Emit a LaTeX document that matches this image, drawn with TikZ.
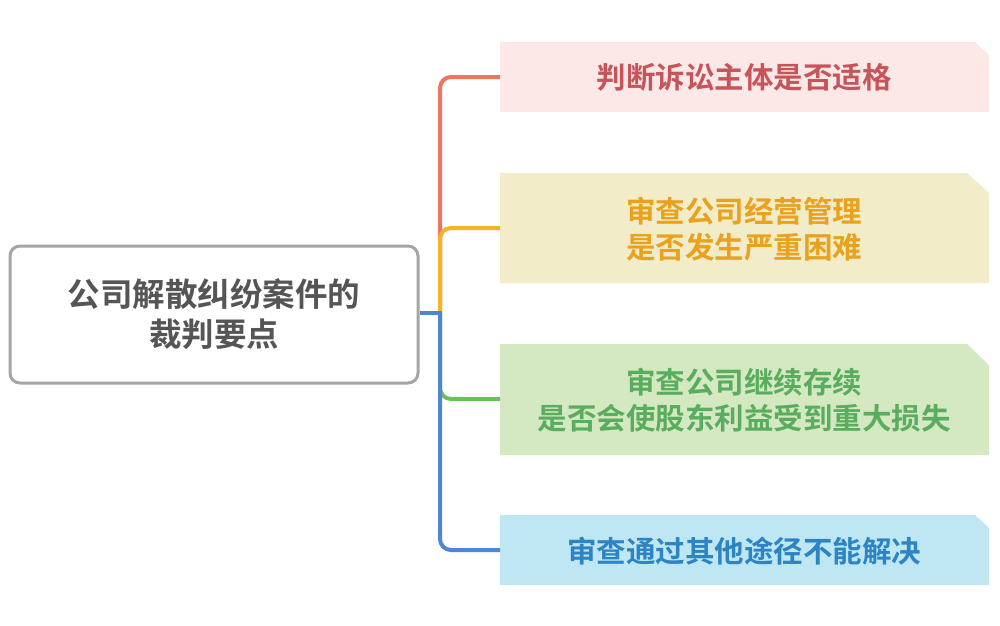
\documentclass[tikz,border=0pt]{standalone}
\usepackage{fontspec}
\newfontfamily\cjk{Noto Sans CJK SC}[BoldFont={Noto Sans CJK SC Bold}]
\definecolor{rootline}{HTML}{A5A5A5}
\definecolor{roottext}{HTML}{555555}
\definecolor{lred}{HTML}{F07464}
\definecolor{lorange}{HTML}{F8B323}
\definecolor{lgreen}{HTML}{6CBE5A}
\definecolor{lblue}{HTML}{4F86D1}
\definecolor{fred}{HTML}{FDE8E8}
\definecolor{fyellow}{HTML}{F3ECC9}
\definecolor{fgreen}{HTML}{D4E8C2}
\definecolor{fblue}{HTML}{BEE7F3}
\definecolor{tred}{HTML}{C6555B}
\definecolor{tyellow}{HTML}{E8A21E}
\definecolor{tgreen}{HTML}{5AAD5E}
\definecolor{tblue}{HTML}{2C84C4}
\begin{document}
\begin{tikzpicture}[x=1pt,y=-1pt,
  rootbox/.style={draw=rootline,line width=3pt,rounded corners=10pt,fill=white,
    minimum width=408pt,minimum height=137pt,inner sep=0pt,align=center,
    text=roottext,font=\cjk\bfseries\fontsize{32.5}{40}\selectfont},
  childtext/.style={align=center,inner sep=0pt,font=\cjk\bfseries\fontsize{29.5}{36}\selectfont},
  conn/.style={line width=4pt,rounded corners=11pt}]
\useasboundingbox (0,0) rectangle (1000,625);
% child boxes with cut corner
\fill[fred] (500,42) -- (975,42) -- (989,55) -- (989,112) -- (500,112) -- cycle;
\fill[fyellow] (500,173) -- (967,173) -- (989,193) -- (989,283) -- (500,283) -- cycle;
\fill[fgreen] (500,344) -- (967,344) -- (989,365) -- (989,455) -- (500,455) -- cycle;
\fill[fblue] (500,515) -- (975,515) -- (989,528) -- (989,585) -- (500,585) -- cycle;
\coordinate (c1) at (500,77);
\coordinate (c2) at (500,228);
\coordinate (c3) at (500,399);
\coordinate (c4) at (500,550);
\node[childtext,text=tred] (t1) at (744,77) {判断诉讼主体是否适格};
\node[childtext,text=tyellow] (t2) at (744,229) {审查公司经营管理\\是否发生严重困难};
\node[childtext,text=tgreen] (t3) at (744,400) {审查公司继续存续\\是否会使股东利益受到重大损失};
\node[childtext,text=tblue] (t4) at (744,551) {审查通过其他途径不能解决};
\node[rootbox] (root) at (214,314.5) {公司解散纠纷案件的\\裁判要点};
\coordinate (j) at (440,313);
\coordinate (jh) at (442,313);
\draw[conn,lred] (j) -- (440,77) -- (c1);
\draw[conn,lorange] (j) -- (440,228) -- (c2);
\draw[conn,lgreen] (j) -- (440,399) -- (c3);
\draw[conn,lblue] (j) -- (440,550) -- (c4);
\draw[line width=4pt,lblue] (root.east |- j) -- (jh);
\end{tikzpicture}
\end{document}
